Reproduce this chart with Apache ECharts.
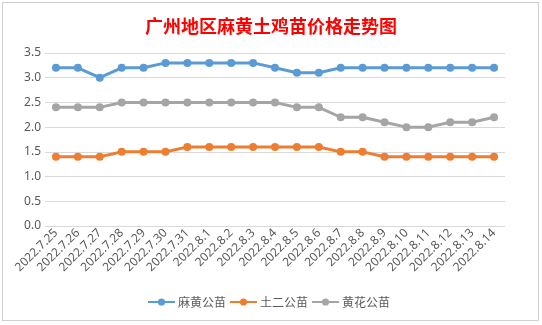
<!DOCTYPE html>
<html><head><meta charset="utf-8">
<script src="https://cdn.jsdelivr.net/npm/echarts@6/dist/echarts.min.js"></script>
<style>
html,body{margin:0;padding:0;background:#fff;}
#wrap{position:absolute;left:2px;top:2px;width:537px;height:319px;border:1px solid #d0d0d0;box-sizing:border-box;}
#c{position:absolute;left:0;top:0;width:542px;height:325px;}
</style></head>
<body>
<div id="wrap"></div>
<div id="c"></div>
<script>
const categories = ['2022.7.25','2022.7.26','2022.7.27','2022.7.28','2022.7.29','2022.7.30','2022.7.31','2022.8.1','2022.8.2','2022.8.3','2022.8.4','2022.8.5','2022.8.6','2022.8.7','2022.8.8','2022.8.9','2022.8.10','2022.8.11','2022.8.12','2022.8.13','2022.8.14'];
const mahuang = [3.2,3.2,3.0,3.2,3.2,3.3,3.3,3.3,3.3,3.3,3.2,3.1,3.1,3.2,3.2,3.2,3.2,3.2,3.2,3.2,3.2];
const tuer = [1.4,1.4,1.4,1.5,1.5,1.5,1.6,1.6,1.6,1.6,1.6,1.6,1.6,1.5,1.5,1.4,1.4,1.4,1.4,1.4,1.4];
const huanghua = [2.4,2.4,2.4,2.5,2.5,2.5,2.5,2.5,2.5,2.5,2.5,2.4,2.4,2.2,2.2,2.1,2.0,2.0,2.1,2.1,2.2];
const seriesNames = ['麻黄公苗','土二公苗','黄花公苗'];
const colors = ['#5b9bd5','#ed7d31','#a5a5a5'];

const chart = echarts.init(document.getElementById('c'), null, {renderer:'canvas'});
const mk = (name, data, color) => ({
  name, type:'line', data,
  symbol:'circle', symbolSize:8,
  lineStyle:{width:3,color}, itemStyle:{color},
  emphasis:{disabled:true}
});
chart.setOption({
  animation:false,
  title:{
    text:'广州地区麻黄土鸡苗价格走势图',
    left:'center', top:12,
    textStyle:{fontFamily:'Noto Sans CJK SC', fontSize:18, fontWeight:'bold', color:'#ff0000'}
  },
  legend:{
    bottom:12, left:142,
    itemWidth:27, itemHeight:9, itemGap:3,
    textStyle:{fontFamily:'Noto Sans CJK SC', fontSize:12, color:'#595959', padding:[0,0,0,-2]},
    data:seriesNames
  },
  grid:{left:45, right:37, top:53, bottom:99, containLabel:false},
  xAxis:{
    type:'category', data:categories, boundaryGap:true,
    axisLine:{show:false}, axisTick:{show:false},
    axisLabel:{rotate:45, interval:0, fontFamily:'Noto Sans', fontSize:12, color:'#595959', margin:5}
  },
  yAxis:{
    type:'value', min:0, max:3.5, interval:0.5,
    axisLine:{show:false}, axisTick:{show:false},
    splitLine:{lineStyle:{color:'#d9d9d9', width:1}},
    axisLabel:{formatter:v=>v.toFixed(1), fontFamily:'Noto Sans', fontSize:12, color:'#595959', margin:4}
  },
  series:[mk(seriesNames[0],mahuang,colors[0]), mk(seriesNames[1],tuer,colors[1]), mk(seriesNames[2],huanghua,colors[2])]
});
</script>
</body></html>
